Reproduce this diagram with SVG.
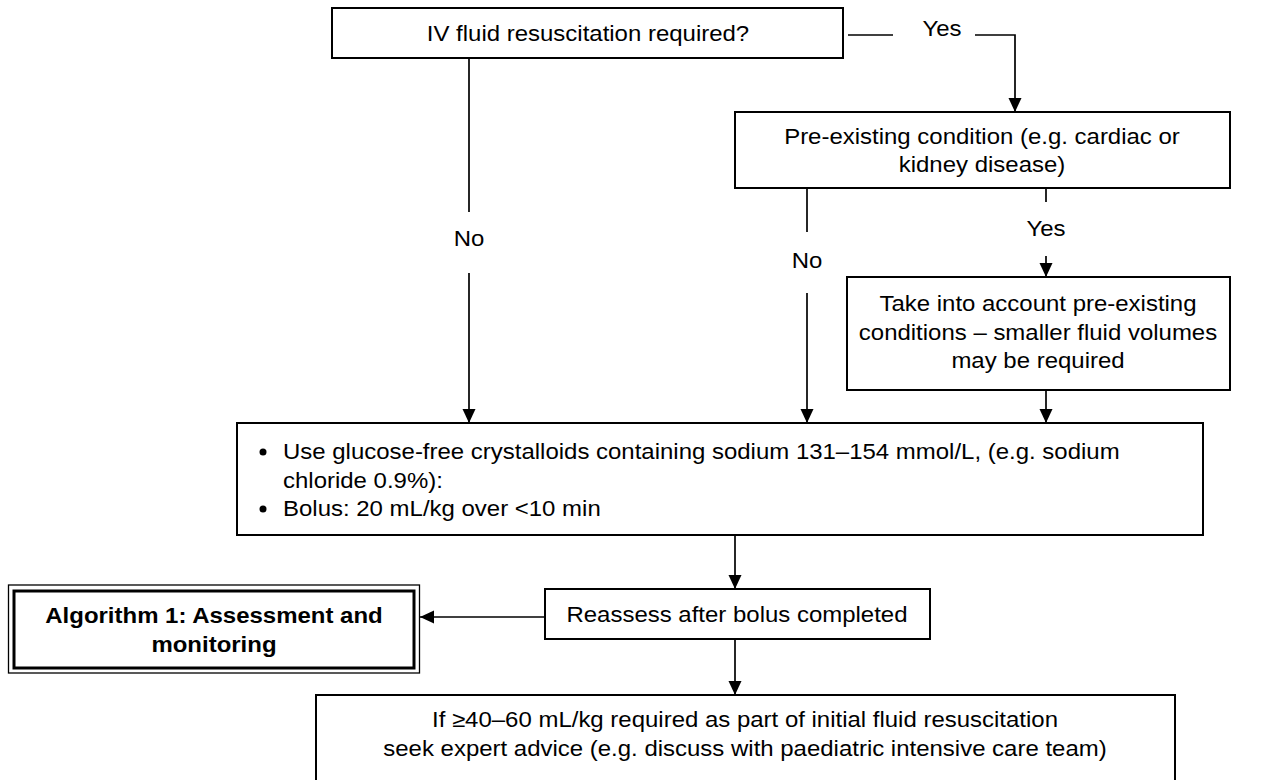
<svg xmlns="http://www.w3.org/2000/svg" width="1280" height="780" viewBox="0 0 1280 780">
  <style>
    .box { fill: #ffffff; stroke: #000000; stroke-width: 2; }
    .wire { fill: none; stroke: #000000; stroke-width: 1.7; }
    text { font-family: "Liberation Sans", Arial, sans-serif; font-size: 22px; fill: #000000;
           transform-box: fill-box; transform-origin: 50% 50%; transform: scaleX(1.09); }
    .c { text-anchor: middle; }
    .l { text-anchor: start; transform-origin: 0 50%; }
    .b { font-weight: bold; }
  </style>
  <defs>
    <marker id="arrow" markerUnits="userSpaceOnUse" markerWidth="14" markerHeight="14" refX="14" refY="6.5" orient="auto">
      <path d="M0,0 L14,6.5 L0,13 Z" fill="#000000"/>
    </marker>
  </defs>

  <rect width="1280" height="780" fill="#ffffff"/>

  <!-- connectors -->
  <g id="connectors">
    <line class="wire" x1="848" y1="35" x2="893" y2="35"/>
    <polyline class="wire" points="975,35 1015,35 1015,112" marker-end="url(#arrow)"/>
    <text class="c" x="942" y="36">Yes</text>

    <line class="wire" x1="469" y1="58" x2="469" y2="212"/>
    <text class="c" x="469" y="246">No</text>
    <line class="wire" x1="469" y1="273" x2="469" y2="423" marker-end="url(#arrow)"/>

    <line class="wire" x1="807" y1="188" x2="807" y2="232"/>
    <text class="c" x="807" y="268">No</text>
    <line class="wire" x1="807" y1="293" x2="807" y2="423" marker-end="url(#arrow)"/>

    <line class="wire" x1="1046" y1="188" x2="1046" y2="202"/>
    <text class="c" x="1046" y="236">Yes</text>
    <line class="wire" x1="1046" y1="256" x2="1046" y2="277" marker-end="url(#arrow)"/>

    <line class="wire" x1="1046" y1="390" x2="1046" y2="423" marker-end="url(#arrow)"/>
    <line class="wire" x1="735" y1="535" x2="735" y2="589" marker-end="url(#arrow)"/>
    <line class="wire" x1="545" y1="617" x2="420" y2="617" marker-end="url(#arrow)"/>
    <line class="wire" x1="735" y1="639" x2="735" y2="695" marker-end="url(#arrow)"/>
  </g>

  <!-- decision: is IV fluid needed -->
  <g id="iv-fluid">
    <rect class="box" x="332" y="8" width="511" height="50"/>
    <text class="c" x="588" y="41">IV fluid resuscitation required?</text>
  </g>

  <!-- decision: pre-existing condition -->
  <g id="pre-existing">
    <rect class="box" x="735" y="112" width="495" height="76"/>
    <text class="c" x="982" y="144">Pre-existing condition (e.g. cardiac or</text>
    <text class="c" x="982" y="172">kidney disease)</text>
  </g>

  <!-- smaller volumes note -->
  <g id="smaller-volumes">
    <rect class="box" x="847" y="277" width="383" height="113"/>
    <text class="c" x="1038" y="311">Take into account pre-existing</text>
    <text class="c" x="1038" y="340">conditions – smaller fluid volumes</text>
    <text class="c" x="1038" y="368">may be required</text>
  </g>

  <!-- crystalloid bolus -->
  <g id="bolus">
    <rect class="box" x="237" y="423" width="966" height="112"/>
    <circle cx="263" cy="452" r="3.5"/>
    <text class="l" x="283" y="459">Use glucose-free crystalloids containing sodium 131–154 mmol/L, (e.g. sodium</text>
    <text class="l" x="283" y="488">chloride 0.9%):</text>
    <circle cx="263" cy="509" r="3.5"/>
    <text class="l" x="283" y="516">Bolus: 20 mL/kg over &lt;10 min</text>
  </g>

  <!-- reassess -->
  <g id="reassess">
    <rect class="box" x="545" y="589" width="385" height="50"/>
    <text class="c" x="737" y="622">Reassess after bolus completed</text>
  </g>

  <!-- link to algorithm 1 -->
  <g id="algorithm-1">
    <rect x="8.5" y="585" width="411" height="88" fill="#ffffff" stroke="#000000" stroke-width="1.3"/>
    <rect x="14" y="591" width="400" height="77" fill="none" stroke="#000000" stroke-width="3"/>
    <text class="c b" x="214" y="623">Algorithm 1: Assessment and</text>
    <text class="c b" x="214" y="652">monitoring</text>
  </g>

  <!-- expert advice -->
  <g id="expert-advice">
    <rect class="box" x="316" y="695" width="859" height="95"/>
    <text class="c" x="745" y="727">If ≥40–60 mL/kg required as part of initial fluid resuscitation</text>
    <text class="c" x="745" y="756">seek expert advice (e.g. discuss with paediatric intensive care team)</text>
  </g>
</svg>
